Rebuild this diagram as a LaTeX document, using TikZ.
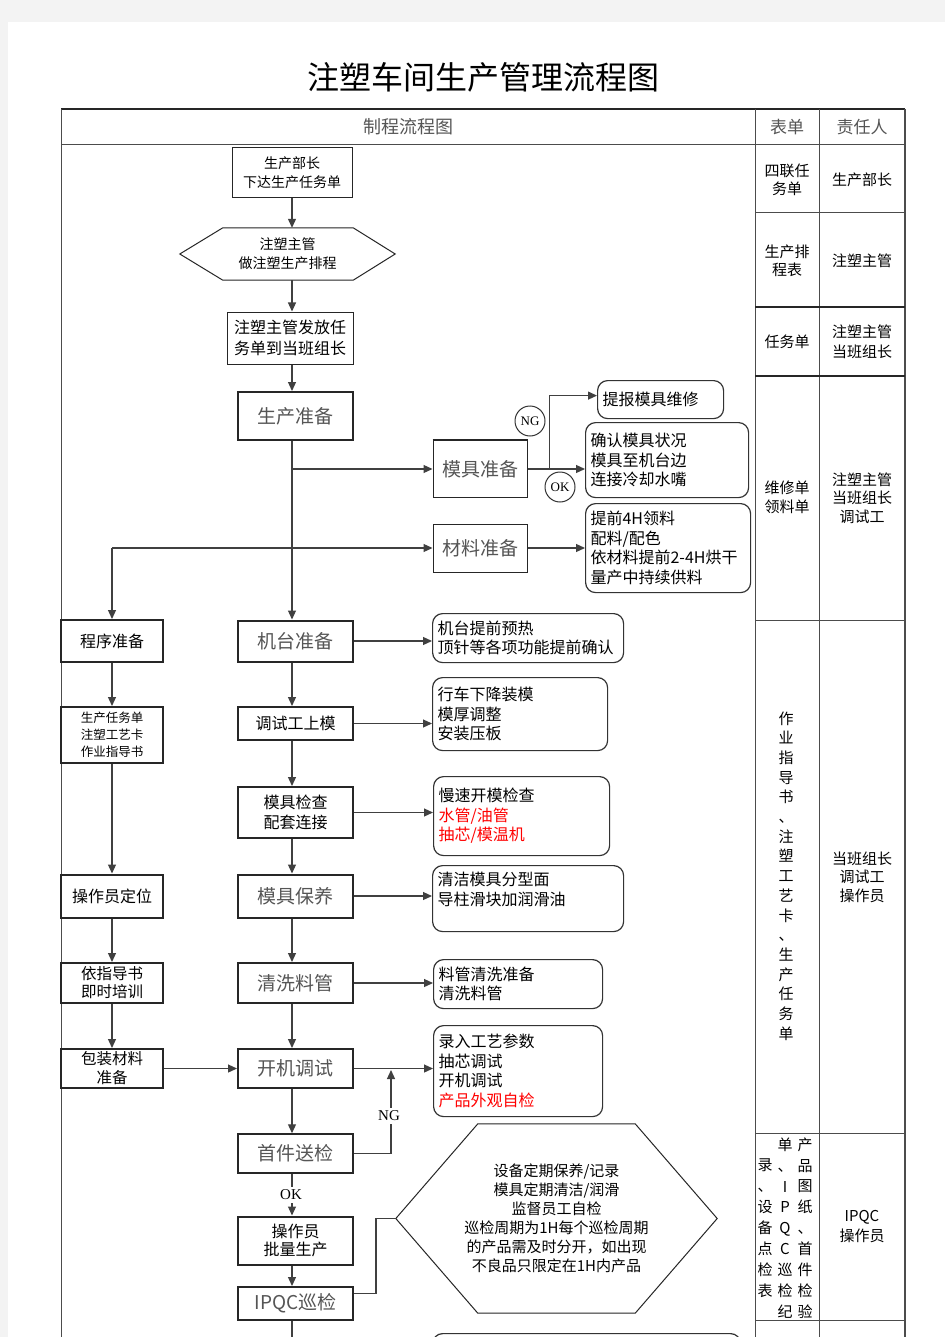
\documentclass[tikz,border=0pt]{standalone}
\usepackage{fontspec}
\setmainfont{Noto Sans CJK SC}
\newfontfamily\latinserif{Liberation Serif}
\usepackage{tikz}
\usetikzlibrary{arrows.meta, calc}

\definecolor{pagegray}{HTML}{F3F3F3}
\definecolor{dimtext}{HTML}{555555}
\definecolor{alert}{HTML}{FF0000}

\begin{document}
\begin{tikzpicture}[
            x = 1pt, y = -1pt, % one unit is one pixel, y runs down
            > = {Triangle[length=9pt, width=8pt]}, % arrow head style
            every node/.style = {inner sep = 0pt},
            line join = miter
        ]

        \tikzstyle{box}=[
            draw = black!85,
            line width = 1pt,
            fill = white,
            align = center,
            minimum width = 115pt
        ]
        \tikzstyle{heavybox}=[box, line width = 2pt]
        \tikzstyle{note}=[
            draw = black!80,
            line width = 1.2pt,
            rounded corners = 10pt,
            anchor = north west,
            align = left,
            inner xsep = 5pt,
            font = \fontsize{16}{19.5}\selectfont
        ]
        \tikzstyle{flow}=[->, line width = 1.2pt, draw = black!75]
        \tikzstyle{link}=[line width = 1.2pt, draw = black!75]
        \tikzstyle{grid}=[line width = 1pt, draw = black!70]
        \tikzstyle{heavygrid}=[line width = 2pt, draw = black!85]
        \tikzstyle{cell}=[align = center, font = \fontsize{15}{18}\selectfont]
        \tikzstyle{small}=[font = \fontsize{14}{19}\selectfont]
        \tikzstyle{plain}=[font = \fontsize{16}{20}\selectfont]
        \tikzstyle{large}=[font = \fontsize{19}{22}\selectfont, text = dimtext]
        \tikzstyle{okng}=[font = \latinserif\fontsize{15}{15}\selectfont, fill = white, inner sep = 3pt]

        % page
        \fill[pagegray] (0,0) rectangle (945,1337);
        \fill[white] (8,22) rectangle (945,1337);
        \useasboundingbox (0,0) rectangle (945,1337);

        \node (title) at (483,77) {\fontsize{32}{32}\selectfont 注塑车间生产管理流程图};

        % table
        \draw[heavygrid] (61,109) -- (905,109);
        \draw[grid] (61,109) -- (61,1340);
        \draw[grid] (755,109) -- (755,1340);
        \draw[grid] (819,109) -- (819,1340);
        \draw[grid, line width = 1.5pt] (905,109) -- (905,1340);
        \draw[grid] (61,145) -- (905,145);
        \draw[grid] (755,213) -- (905,213);
        \draw[heavygrid] (755,307) -- (905,307);
        \draw[heavygrid] (755,376) -- (905,376);
        \draw[grid] (755,620) -- (905,620);
        \draw[grid] (755,1133) -- (905,1133);
        \draw[grid] (755,1320) -- (905,1320);

        \node[text = dimtext, font = \fontsize{18}{18}\selectfont] (hdflow) at (408,127) {制程流程图};
        \node[text = dimtext, font = \fontsize{17}{17}\selectfont] (hdform) at (787,127) {表单};
        \node[text = dimtext, font = \fontsize{17}{17}\selectfont] (hdowner) at (862,127) {责任人};

        \node[cell] (form1) at (787,180) {四联任\\务单};
        \node[cell] (owner1) at (862,180) {生产部长};
        \node[cell] (form2) at (787,261) {生产排\\程表};
        \node[cell] (owner2) at (862,261) {注塑主管};
        \node[cell] (form3) at (787,342) {任务单};
        \node[cell, font = \fontsize{15}{20}\selectfont] (owner3) at (862,342) {注塑主管\\当班组长};
        \node[cell, font = \fontsize{15}{19}\selectfont] (form4) at (787,497) {维修单\\领料单};
        \node[cell, font = \fontsize{15}{18.5}\selectfont] (owner4) at (862,498) {注塑主管\\当班组长\\调试工};
        \node[cell, font = \fontsize{15}{19.7}\selectfont] (form5) at (786,876)
            {作\\业\\指\\导\\书\\、\\注\\塑\\工\\艺\\卡\\、\\生\\产\\任\\务\\单};
        \node[cell, font = \fontsize{15}{18.5}\selectfont] (owner5) at (862,877) {当班组长\\调试工\\操作员};
        \node[cell, font = \fontsize{15}{20.9}\selectfont] (form6a) at (805,1228) {产\\品\\图\\纸\\、\\首\\件\\检\\验};
        \node[cell, font = \fontsize{15}{20.9}\selectfont] (form6b) at (785,1228) {单\\、\\I\\P\\Q\\C\\巡\\检\\纪};
        \node[cell, font = \fontsize{15}{20.9}\selectfont] (form6c) at (765,1228) {录\\、\\设\\备\\点\\检\\表};
        \node[cell, font = \fontsize{15}{20}\selectfont] (owner6) at (862,1227) {IPQC\\操作员};

        % main column
        \coordinate (spine) at (292,0);
        \node[box, small, minimum width = 120pt, minimum height = 50pt] (order) at (292,173) {生产部长\\下达生产任务单};
        \node[small, align = center, minimum width = 215pt, minimum height = 52pt] (sched) at (287.5,254) {注塑主管\\做注塑生产排程};
        \draw[black!85, line width = 1pt] (sched.west) -- ($(sched.north west)+(43,0)$)
            -- ($(sched.north east)+(-42,0)$) -- (sched.east)
            -- ($(sched.south east)+(-42,0)$) -- ($(sched.south west)+(43,0)$) -- cycle;
        \node[box, plain, font = \fontsize{16}{21}\selectfont, minimum width = 126pt, minimum height = 52pt] (issue) at (290,338) {注塑主管发放任\\务单到当班组长};
        \node[heavybox, large, minimum height = 48pt] (prep) at (295.5,416) {生产准备};
        \node[heavybox, large, minimum height = 41pt] (machine) at (295.5,641) {机台准备};
        \node[heavybox, plain, minimum height = 33pt] (mount) at (295.5,723.5) {调试工上模};
        \node[heavybox, plain, minimum height = 51pt] (check) at (295.5,812.5) {模具检查\\配套连接};
        \node[heavybox, large, minimum height = 43pt] (care) at (295.5,896) {模具保养};
        \node[heavybox, large, minimum height = 40pt] (purge) at (295.5,983) {清洗料管};
        \node[heavybox, large, minimum height = 39pt] (trial) at (295.5,1068.5) {开机调试};
        \node[box, large, line width = 1.5pt, minimum height = 39pt] (first) at (295.5,1153.5) {首件送检};
        \node[heavybox, plain, font = \fontsize{16}{18}\selectfont, minimum height = 48pt] (batch) at (295.5,1240.5) {操作员\\批量生产};
        \node[heavybox, large, minimum height = 33pt] (ipqc) at (295.5,1303.5) {IPQC巡检};
        \coordinate (tail) at (292,1345);

        % left column
        \node[heavybox, plain, minimum width = 102pt, minimum height = 42pt] (program) at (112,641) {程序准备};
        \node[heavybox, font = \fontsize{12.5}{17}\selectfont, minimum width = 102pt, minimum height = 56pt] (docs) at (112,735) {生产任务单\\注塑工艺卡\\作业指导书};
        \node[heavybox, plain, minimum width = 102pt, minimum height = 43pt] (operator) at (112,896) {操作员定位};
        \node[heavybox, font = \fontsize{15.5}{18}\selectfont, minimum width = 102pt, minimum height = 40pt] (train) at (112,983) {依指导书\\即时培训};
        \node[heavybox, font = \fontsize{15.5}{19}\selectfont, minimum width = 102pt, minimum height = 39pt] (pack) at (112,1068.5) {包装材料\\准备};
        \coordinate (split) at (112,548);

        % mould and material branch
        \node[box, large, minimum width = 94pt, minimum height = 57pt] (mold) at (480,469) {模具准备};
        \draw[heavygrid] (mold.north west) -- (mold.north east);
        \node[box, large, minimum width = 94pt, minimum height = 48pt] (mat) at (480,548) {材料准备};
        \node[note, text width = 116pt, minimum height = 38pt] (repair) at (597,380) {提报模具维修};
        \node[note, text width = 153pt, minimum height = 75pt] (confirm) at (585,422) {确认模具状况\\模具至机台边\\连接冷却水嘴};
        \node[note, text width = 155pt, minimum height = 89pt] (feed) at (585,503) {提前4H领料\\配料/配色\\依材料提前2-4H烘干\\量产中持续供料};

        % notes beside the main column
        \node[note, text width = 181pt, minimum height = 49pt] (warm) at (432,613) {机台提前预热\\顶针等各项功能提前确认};
        \node[note, text width = 165pt, minimum height = 73pt] (lift) at (432,677) {行车下降装模\\模厚调整\\安装压板};
        \node[note, text width = 166pt, minimum height = 79pt] (slow) at (433,776) {慢速开模检查\\\textcolor{alert}{水管/油管}\\\textcolor{alert}{抽芯/模温机}};
        \node[note, text width = 181pt, minimum height = 66pt] (clean) at (432,865) {清洁模具分型面\\导柱滑块加润滑油\\~};
        \node[note, text width = 159pt, minimum height = 49pt] (tube) at (433,959) {料管清洗准备\\清洗料管};
        \node[note, text width = 159pt, minimum height = 91pt] (param) at (433,1025) {录入工艺参数\\抽芯调试\\开机调试\\\textcolor{alert}{产品外观自检}};
        \node[note, text width = 298pt, minimum height = 40pt] (next) at (432,1333) {};

        \node[font = \fontsize{15}{19}\selectfont, align = center, minimum width = 321pt, minimum height = 189pt] (patrol) at (556.5,1218.5)
            {设备定期保养/记录\\模具定期清洁/润滑\\监督员工自检\\巡检周期为1H每个巡检周期\\的产品需及时分开，如出现\\不良品只限定在1H内产品};
        \draw[black!85, line width = 1pt] (patrol.west) -- ($(patrol.north west)+(82,0)$)
            -- ($(patrol.north east)+(-82,0)$) -- (patrol.east)
            -- ($(patrol.south east)+(-82,0)$) -- ($(patrol.south west)+(82,0)$) -- cycle;

        % connectors
        \draw[flow] (order.south -| spine) -- (sched.north -| spine);
        \draw[flow] (sched.south -| spine) -- (issue.north -| spine);
        \draw[flow] (issue.south -| spine) -- (prep.north -| spine);
        \draw[flow] (prep.south -| spine) -- (machine.north -| spine);
        \draw[flow] (machine.south -| spine) -- (mount.north -| spine);
        \draw[flow] (mount.south -| spine) -- (check.north -| spine);
        \draw[flow] (check.south -| spine) -- (care.north -| spine);
        \draw[flow] (care.south -| spine) -- (purge.north -| spine);
        \draw[flow] (purge.south -| spine) -- (trial.north -| spine);
        \draw[flow] (trial.south -| spine) -- (first.north -| spine);
        \draw[flow] (first.south -| spine) -- (batch.north -| spine);
        \draw[flow] (batch.south -| spine) -- (ipqc.north -| spine);
        \draw[link] (ipqc.south -| spine) -- (tail);

        \draw[flow] (spine |- mold) -- (mold.west);
        \draw[flow] (split) -- (mat.west);
        \draw[flow] (split) -- (program.north);
        \draw[flow] (mold.east) -- (mold.east -| confirm.west);
        \draw[flow] ($(mold.east)+(22,0)$) |- ([yshift=4pt]repair.west);
        \draw[flow] (mat.east) -- (mat.east -| feed.west);
        \node[circle, draw = black!80, line width = 1pt, fill = white, minimum size = 30pt,
            font = \latinserif\fontsize{13}{13}\selectfont] (ngmold) at (530,421) {NG};
        \node[circle, draw = black!80, line width = 1pt, fill = white, minimum size = 30pt,
            font = \latinserif\fontsize{13}{13}\selectfont] (okmold) at (560,487) {OK};

        \draw[flow] (program.south) -- (docs.north);
        \draw[flow] (docs.south) -- (operator.north);
        \draw[flow] (operator.south) -- (train.north);
        \draw[flow] (train.south) -- (pack.north);
        \draw[flow] (pack.east) -- (trial.west);

        \draw[flow] (machine.east) -- (machine.east -| warm.west);
        \draw[flow] (mount.east) -- (mount.east -| lift.west);
        \draw[flow] (check.east) -- (check.east -| slow.west);
        \draw[flow] (care.east) -- (care.east -| clean.west);
        \draw[flow] (purge.east) -- (purge.east -| tube.west);
        \draw[flow] (trial.east) -- (trial.east -| param.west);

        \coordinate (ngturn) at (391,1070);
        \draw[flow] (first.east) -| (ngturn);
        \node[okng] (ngfirst) at (389,1116) {NG};
        \node[okng] (okfirst) at (291,1195) {OK};
        \draw[link] ([yshift=10pt]ipqc.east) -- ++(22,0) |- (patrol.west);

\end{tikzpicture}
\end{document}
